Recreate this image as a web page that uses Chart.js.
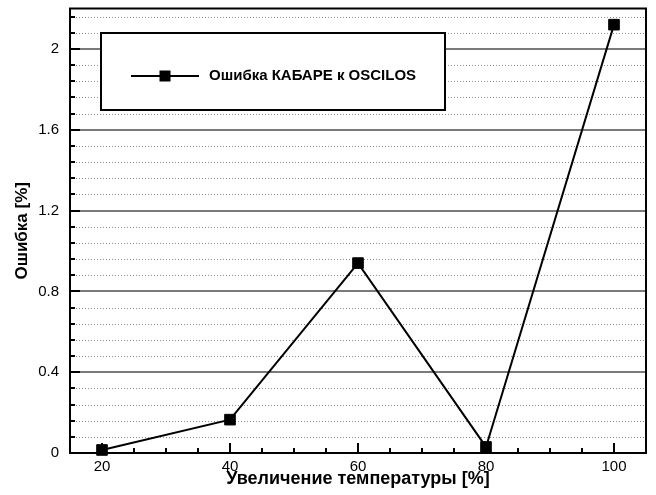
<!DOCTYPE html>
<html>
<head>
<meta charset="utf-8">
<script src="https://cdn.jsdelivr.net/npm/chart.js@4.4.0/dist/chart.umd.min.js"></script>
<style>
  html, body { margin: 0; padding: 0; background: #fff; }
  #wrap { width: 656px; height: 495px; }
</style>
</head>
<body>
<div id="wrap"><canvas id="errChart" width="656" height="495"></canvas></div>
<script>
// данные с графика
const tempIncrease = [20, 40, 60, 80, 100];
const errorValues = [0.015, 0.165, 0.94, 0.03, 2.12];
const xTicks = [20, 40, 60, 80, 100];
const yTicks = [0, 0.4, 0.8, 1.2, 1.6, 2];
const seriesLabel = 'Ошибка КАБАРЕ к OSCILOS';
const xTitle = 'Увеличение температуры [%]';
const yTitle = 'Ошибка [%]';
const xMinorStep = 5;
const yMinorStep = 0.08;

const fontFam = "'Liberation Sans', Arial, Helvetica, sans-serif";

// сетка, рамка, засечки внутрь и легенда в рамке
const tecplotLook = {
  id: 'tecplotLook',
  beforeDatasetsDraw(chart) {
    const { ctx, chartArea: a, scales: { y } } = chart;
    ctx.save();
    ctx.lineWidth = 1;
    ctx.strokeStyle = '#8c8c8c';
    ctx.setLineDash([1, 2]);
    const n = Math.floor((y.max - 1e-9) / yMinorStep);
    for (let i = 1; i <= n; i++) {
      if (i % 5 === 0) continue;
      const py = Math.round(y.getPixelForValue(i * yMinorStep)) + 0.5;
      ctx.beginPath();
      ctx.moveTo(a.left, py);
      ctx.lineTo(a.right, py);
      ctx.stroke();
    }
    ctx.setLineDash([]);
    ctx.strokeStyle = '#7a7a7a';
    ctx.lineWidth = 2;
    yTicks.forEach(v => {
      if (v <= 0) return;
      const py = Math.round(y.getPixelForValue(v));
      ctx.beginPath();
      ctx.moveTo(a.left, py);
      ctx.lineTo(a.right, py);
      ctx.stroke();
    });
    ctx.restore();
  },
  afterDraw(chart) {
    const { ctx, chartArea: a, scales: { x, y } } = chart;
    ctx.save();
    ctx.strokeStyle = '#000';
    ctx.lineWidth = 2;
    // засечки слева
    const n = Math.floor((y.max - 1e-9) / yMinorStep);
    for (let i = 1; i <= n; i++) {
      const py = Math.round(y.getPixelForValue(i * yMinorStep));
      const len = i % 5 === 0 ? 10 : 5;
      ctx.beginPath();
      ctx.moveTo(a.left, py);
      ctx.lineTo(a.left + len, py);
      ctx.stroke();
    }
    // засечки снизу
    for (let v = x.min + xMinorStep; v < x.max; v += xMinorStep) {
      const px = Math.round(x.getPixelForValue(v));
      const len = xTicks.includes(v) ? 10 : 5;
      ctx.beginPath();
      ctx.moveTo(px, a.bottom);
      ctx.lineTo(px, a.bottom - len);
      ctx.stroke();
    }
    // рамка
    ctx.strokeRect(a.left, a.top, a.right - a.left, a.bottom - a.top);

    // легенда
    const bx = 101, by = 33, bw = 344, bh = 77;
    ctx.fillStyle = '#fff';
    ctx.fillRect(bx, by, bw, bh);
    ctx.strokeRect(bx, by, bw, bh);
    const ly = 76;
    ctx.beginPath();
    ctx.moveTo(131, ly);
    ctx.lineTo(199, ly);
    ctx.stroke();
    ctx.fillStyle = '#000';
    ctx.fillRect(165 - 5.5, ly - 5.5, 11, 11);
    ctx.font = 'bold 15px ' + fontFam;
    ctx.textBaseline = 'middle';
    ctx.textAlign = 'left';
    ctx.fillText(chart.data.datasets[0].label, 209, ly);
    ctx.restore();
  }
};

const ctx = document.getElementById('errChart').getContext('2d');
const errChart = new Chart(ctx, {
  type: 'line',
  data: {
    datasets: [{
      label: seriesLabel,
      data: tempIncrease.map((t, i) => ({ x: t, y: errorValues[i] })),
      borderColor: '#000',
      borderWidth: 2,
      backgroundColor: '#000',
      pointStyle: 'rect',
      pointRadius: 7.5,
      pointBorderWidth: 1,
      pointBorderColor: '#000',
      pointBackgroundColor: '#000',
      tension: 0,
      clip: false
    }]
  },
  options: {
    responsive: false,
    animation: false,
    devicePixelRatio: 1,
    layout: { padding: { top: 8, right: 10, left: 0, bottom: 0 } },
    plugins: {
      legend: { display: false },
      tooltip: { enabled: false }
    },
    scales: {
      x: {
        type: 'linear',
        min: 15,
        max: 105,
        afterBuildTicks: s => { s.ticks = xTicks.map(v => ({ value: v })); },
        afterFit: s => { s.height = 42; s.paddingLeft = 0; s.paddingRight = 0; },
        grid: { display: false, drawTicks: false },
        border: { display: false },
        ticks: {
          color: '#000',
          padding: 5,
          maxRotation: 0,
          font: { family: fontFam, size: 15 },
          callback: v => String(v)
        },
        title: {
          display: true,
          text: xTitle,
          color: '#000',
          font: { family: fontFam, size: 18, weight: 'bold' },
          padding: { top: 0, bottom: 5 }
        }
      },
      y: {
        type: 'linear',
        min: 0,
        max: 2.2,
        afterBuildTicks: s => { s.ticks = yTicks.map(v => ({ value: v })); },
        afterFit: s => { s.width = 70; s.paddingTop = 0; s.paddingBottom = 0; },
        grid: { display: false, drawTicks: false },
        border: { display: false },
        ticks: {
          color: '#000',
          padding: 11,
          font: { family: fontFam, size: 15 },
          callback: v => String(v)
        },
        title: {
          display: true,
          text: yTitle,
          color: '#000',
          font: { family: fontFam, size: 17, weight: 'bold' },
          padding: { top: 12, bottom: 0 }
        }
      }
    }
  },
  plugins: [tecplotLook]
});
</script>
</body>
</html>
